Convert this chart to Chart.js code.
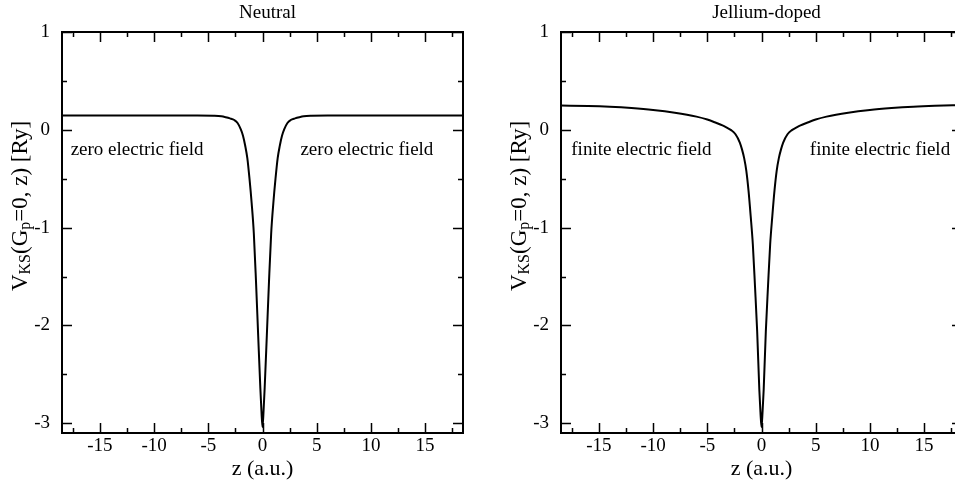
<!DOCTYPE html>
<html>
<head>
<meta charset="utf-8">
<script src="https://cdn.jsdelivr.net/npm/chart.js@4.4.1/dist/chart.umd.min.js"></script>
<style>
  html, body { margin: 0; padding: 0; background: #fff; overflow: hidden; width: 955px; height: 484px; }
  canvas { position: absolute; top: 0; }
  #neutral { left: 0; }
  #doped { left: 499px; }
</style>
</head>
<body>
<canvas id="neutral" width="480" height="484"></canvas>
<canvas id="doped" width="480" height="484"></canvas>
<script>
// V_KS(G_p=0, z) in Ry
const zNeutral = [-18.5, -14, -10, -6, -4.5, -3.8, -3.4, -3.0, -2.6, -2.3, -2.0, -1.8, -1.6, -1.4, -1.2, -1.0, -0.8, -0.6, -0.4, -0.2, -0.1, 0,
                  0.1, 0.2, 0.4, 0.6, 0.8, 1.0, 1.2, 1.4, 1.6, 1.8, 2.0, 2.3, 2.6, 3.0, 3.4, 3.8, 4.5, 6, 10, 14, 18.5];
const vNeutral = [0.145, 0.145, 0.145, 0.145, 0.143, 0.138, 0.129, 0.117, 0.100, 0.070, 0.005, -0.06, -0.16, -0.29, -0.50, -0.75, -1.06, -1.55, -2.10, -2.64, -2.87, -3.04,
                  -2.87, -2.64, -2.10, -1.55, -1.06, -0.75, -0.50, -0.29, -0.16, -0.06, 0.005, 0.070, 0.100, 0.117, 0.129, 0.138, 0.143, 0.145, 0.145, 0.145, 0.145];

const zDoped = [-18.5, -16, -14, -12, -10, -8, -6, -5, -4.2, -3.6, -3.2, -2.8, -2.4, -2.0, -1.8, -1.6, -1.4, -1.2, -1.0, -0.8, -0.6, -0.4, -0.2, -0.1, 0,
                0.1, 0.2, 0.4, 0.6, 0.8, 1.0, 1.2, 1.4, 1.6, 1.8, 2.0, 2.4, 2.8, 3.2, 3.6, 4.2, 5, 6, 8, 10, 12, 14, 16, 18.5];
const vDoped = [0.248, 0.243, 0.235, 0.222, 0.203, 0.175, 0.135, 0.105, 0.072, 0.045, 0.022, -0.003, -0.045, -0.13, -0.20, -0.29, -0.42, -0.62, -0.88, -1.17, -1.60, -2.06, -2.66, -2.88, -3.04,
                -2.88, -2.66, -2.06, -1.60, -1.17, -0.88, -0.62, -0.42, -0.29, -0.20, -0.13, -0.045, -0.003, 0.022, 0.045, 0.072, 0.105, 0.135, 0.175, 0.203, 0.222, 0.236, 0.245, 0.252];

const xTicks = [-15, -10, -5, 0, 5, 10, 15];
const xMinor = [-17.5, -12.5, -7.5, -2.5, 2.5, 7.5, 12.5, 17.5];
const yTicks = [-3, -2, -1, 0, 1];
const yMinor = [-2.5, -1.5, -0.5, 0.5];

const serif = '"Liberation Serif", "Times New Roman", serif';

// xmgrace-like frame: box, inward ticks on all sides, titles and notes
const gracePlugin = {
  id: 'grace',
  afterDraw(chart, args, opts) {
    const { ctx, chartArea: a, scales: { x, y } } = chart;
    ctx.save();
    ctx.strokeStyle = '#000';
    ctx.fillStyle = '#000';
    ctx.lineWidth = 2;
    ctx.strokeRect(a.left, a.top, a.right - a.left, a.bottom - a.top);

    ctx.lineWidth = 1.5;
    ctx.beginPath();
    const xt = (vals, len) => vals.forEach(v => {
      const px = Math.round(x.getPixelForValue(v)) + 0.5;
      ctx.moveTo(px, a.bottom); ctx.lineTo(px, a.bottom - len);
      ctx.moveTo(px, a.top); ctx.lineTo(px, a.top + len);
    });
    const yt = (vals, len) => vals.forEach(v => {
      const py = Math.round(y.getPixelForValue(v)) + 0.5;
      ctx.moveTo(a.left, py); ctx.lineTo(a.left + len, py);
      ctx.moveTo(a.right, py); ctx.lineTo(a.right - len, py);
    });
    xt(xTicks, 10); xt(xMinor, 5);
    yt(yTicks, 10); yt(yMinor, 5);
    ctx.stroke();

    // panel title
    ctx.textAlign = 'center';
    ctx.textBaseline = 'alphabetic';
    ctx.font = '19px ' + serif;
    ctx.fillText(opts.title, (a.left + a.right) / 2 + 5, 18);

    // x title
    ctx.font = '22px ' + serif;
    ctx.fillText('z (a.u.)', x.getPixelForValue(0), 475);

    // notes
    ctx.textAlign = 'left';
    ctx.textBaseline = 'middle';
    ctx.font = '19px ' + serif;
    opts.notes.forEach(zpos => ctx.fillText(opts.note, x.getPixelForValue(zpos), y.getPixelForValue(-0.21)));

    // y title with subscripts
    const parts = [
      { t: 'V', s: 23, d: 0 }, { t: 'KS', s: 16, d: 3 }, { t: '(G', s: 23, d: 0 },
      { t: 'p', s: 16, d: 3 }, { t: '=0, z) [Ry]', s: 23, d: 0 }
    ];
    let total = 0;
    parts.forEach(p => { ctx.font = p.s + 'px ' + serif; p.w = ctx.measureText(p.t).width; total += p.w; });
    ctx.translate(27, 206);
    ctx.rotate(-Math.PI / 2);
    ctx.textBaseline = 'alphabetic';
    let cx = -total / 2;
    parts.forEach(p => {
      ctx.font = p.s + 'px ' + serif;
      ctx.fillText(p.t, cx, p.d);
      cx += p.w;
    });
    ctx.restore();
  }
};

function makePanel(id, zs, vs, title, note, notes) {
  return new Chart(document.getElementById(id), {
    type: 'line',
    data: {
      datasets: [{
        data: zs.map((z, i) => ({ x: z, y: vs[i] })),
        borderColor: '#000',
        borderWidth: 2,
        pointRadius: 0,
        cubicInterpolationMode: 'monotone',
        fill: false
      }]
    },
    options: {
      responsive: false,
      animation: false,
      devicePixelRatio: 1,
      layout: { padding: { left: 0, top: 32, right: 17, bottom: 0 } },
      plugins: {
        legend: { display: false },
        tooltip: { enabled: false },
        grace: { title: title, note: note, notes: notes }
      },
      scales: {
        x: {
          type: 'linear', min: -18.5, max: 18.5,
          grid: { display: false, drawTicks: false },
          border: { display: false },
          afterBuildTicks: s => { s.ticks = xTicks.map(v => ({ value: v })); },
          afterFit: s => { s.height = 51; },
          ticks: { color: '#000', padding: 2, maxRotation: 0, font: { family: serif, size: 19 } }
        },
        y: {
          type: 'linear', min: -3.1, max: 1,
          grid: { display: false, drawTicks: false },
          border: { display: false },
          afterBuildTicks: s => { s.ticks = yTicks.map(v => ({ value: v })); },
          afterFit: s => { s.width = 62; },
          ticks: { color: '#000', padding: 12, font: { family: serif, size: 19 } }
        }
      }
    },
    plugins: [gracePlugin]
  });
}

makePanel('neutral', zNeutral, vNeutral, 'Neutral', 'zero electric field', [-17.7, 3.5]);
makePanel('doped', zDoped, vDoped, 'Jellium-doped', 'finite electric field', [-17.55, 4.46]);
</script>
</body>
</html>
